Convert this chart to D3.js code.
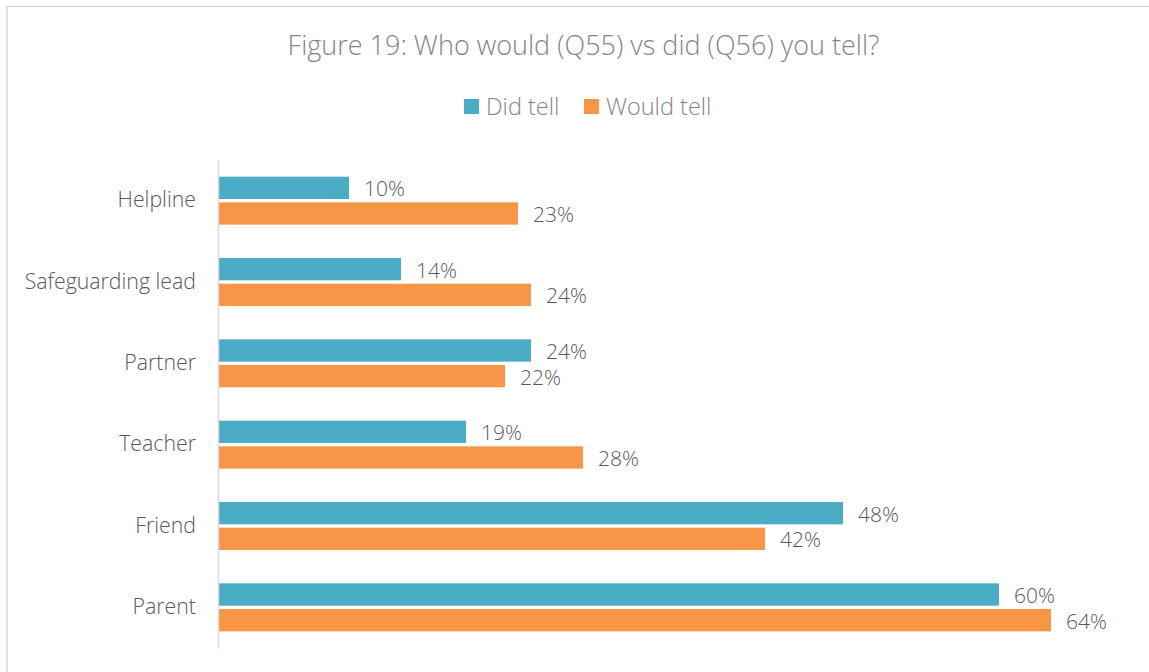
<!DOCTYPE html>
<html>
<head>
<meta charset="utf-8">
<script src="https://cdn.jsdelivr.net/npm/d3@7"></script>
<style>
  html, body { margin: 0; padding: 0; background: #fff; }
  svg { display: block; font-family: "Open Sans", sans-serif; font-weight: 300; }
</style>
</head>
<body>
<div id="chart"></div>
<script>
// chart data
const categories = ["Helpline", "Safeguarding lead", "Partner", "Teacher", "Friend", "Parent"];
const seriesNames = ["Did tell", "Would tell"];
const didTell = [10, 14, 24, 19, 48, 60];
const wouldTell = [23, 24, 22, 28, 42, 64];
const colors = ["#4bacc6", "#f79646"];

const width = 1149, height = 672;
const margin = { top: 160, left: 219, bottom: 24 };

const svg = d3.select("#chart").append("svg")
    .attr("width", width)
    .attr("height", height);

// outer frame (runs off right/bottom edge like the source)
svg.append("rect")
    .attr("x", 7).attr("y", 6.5)
    .attr("width", width + 20).attr("height", height + 20)
    .attr("fill", "none")
    .attr("stroke", "#d9d9d9")
    .attr("stroke-width", 1.5);

// title
svg.append("text")
    .attr("x", 583.5).attr("y", 55)
    .attr("text-anchor", "middle")
    .attr("font-size", 27)
    .attr("fill", "#858585")
    .text("Figure 19: Who would (Q55) vs did (Q56) you tell?");

// scales
const y = d3.scaleBand()
    .domain(categories)
    .range([margin.top, height - margin.bottom])
    .paddingInner(0.41)
    .paddingOuter(0.205);

const ySub = d3.scaleBand()
    .domain(seriesNames)
    .range([0, y.bandwidth()])
    .paddingInner(0.13);

const x = d3.scaleLinear()
    .domain([0, 64])
    .range([margin.left, margin.left + 832]);

const rows = categories.map((c, i) => ({ cat: c, values: [didTell[i], wouldTell[i]] }));

// bars
const groups = svg.append("g").selectAll("g")
    .data(rows)
    .join("g")
    .attr("transform", d => `translate(0,${y(d.cat)})`);

groups.selectAll("rect")
    .data(d => d.values.map((v, i) => ({ name: seriesNames[i], v, i })))
    .join("rect")
    .attr("x", x(0))
    .attr("y", d => ySub(d.name))
    .attr("width", d => x(d.v) - x(0))
    .attr("height", ySub.bandwidth())
    .attr("fill", d => colors[d.i]);

groups.selectAll("text")
    .data(d => d.values.map((v, i) => ({ name: seriesNames[i], v, i })))
    .join("text")
    .attr("x", d => x(d.v) + 15)
    .attr("y", d => ySub(d.name) + ySub.bandwidth() / 2)
    .attr("dy", "0.4em")
    .attr("font-size", 21)
    .attr("fill", "#595959")
    .text(d => d.v + "%");

// category axis
const yAxis = svg.append("g")
    .attr("transform", `translate(${margin.left - 1},0)`)
    .call(d3.axisLeft(y).tickSize(0).tickPadding(22));
yAxis.select(".domain").attr("stroke", "#d9d9d9").attr("stroke-width", 1.5);
yAxis.selectAll("text")
    .attr("font-family", "Open Sans, sans-serif")
    .attr("font-weight", 300)
    .attr("font-size", 21.3)
    .attr("dy", "0.32em")
    .attr("fill", "#595959");

// legend
const legend = svg.append("g").attr("transform", "translate(464,99)");
const legendX = [0, 120];
seriesNames.forEach((name, i) => {
    const g = legend.append("g").attr("transform", `translate(${legendX[i]},0)`);
    g.append("rect").attr("width", 15).attr("height", 15).attr("fill", colors[i]);
    g.append("text")
        .attr("x", 22).attr("y", 7.5)
        .attr("dy", "0.36em")
        .attr("font-size", 23.5)
        .attr("fill", "#858585")
        .text(name);
});
</script>
</body>
</html>
